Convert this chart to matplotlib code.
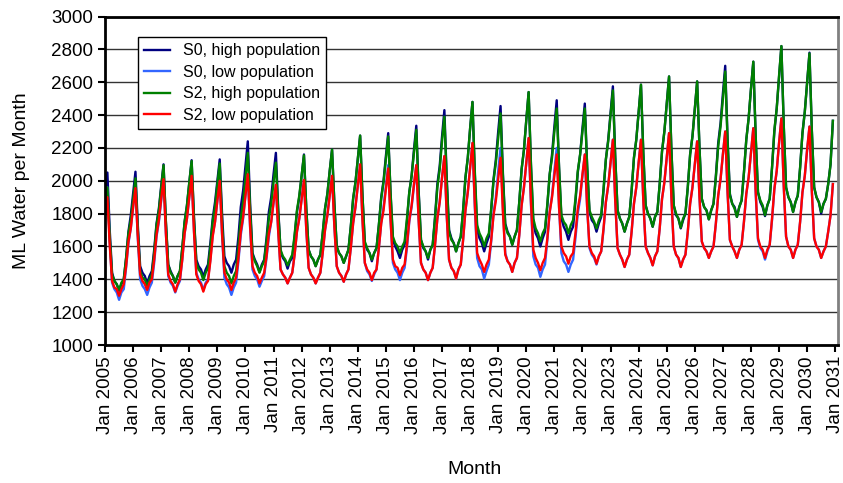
import numpy as np
import matplotlib
matplotlib.use("Agg")
import matplotlib.pyplot as plt

plt.rcParams["font.family"] = ["Liberation Sans", "DejaVu Sans"]

# tick labels: one per January, 2005 .. 2031
years = list(range(2005, 2032))
tick_labels = [f"Jan {y}" for y in years]

# monthly demand, ML per month, Jan 2005 .. Dec 2030 (one row per year)
s0_high = [
    1820, 2050, 1700, 1440, 1390, 1370, 1330, 1370, 1400, 1530, 1690, 1790,
    1920, 2055, 1730, 1480, 1440, 1420, 1375, 1420, 1450, 1580, 1740, 1830,
    1970, 2100, 1750, 1490, 1450, 1420, 1380, 1420, 1450, 1590, 1750, 1850,
    1990, 2125, 1780, 1520, 1480, 1460, 1415, 1460, 1490, 1620, 1770, 1870,
    2000, 2130, 1800, 1540, 1500, 1480, 1440, 1490, 1520, 1660, 1840, 1940,
    2090, 2240, 1860, 1560, 1520, 1490, 1445, 1490, 1520, 1650, 1810, 1900,
    2040, 2170, 1830, 1570, 1530, 1510, 1465, 1510, 1530, 1660, 1810, 1900,
    2030, 2160, 1830, 1580, 1540, 1520, 1480, 1520, 1550, 1680, 1830, 1920,
    2060, 2190, 1860, 1600, 1560, 1540, 1500, 1540, 1580, 1720, 1890, 1990,
    2130, 2275, 1910, 1620, 1580, 1560, 1510, 1560, 1590, 1730, 1900, 2000,
    2150, 2290, 1920, 1640, 1600, 1570, 1530, 1580, 1610, 1750, 1930, 2030,
    2190, 2335, 1940, 1640, 1590, 1570, 1520, 1580, 1610, 1780, 1980, 2090,
    2270, 2430, 2020, 1700, 1650, 1620, 1570, 1620, 1660, 1820, 2020, 2140,
    2320, 2480, 2040, 1700, 1650, 1620, 1570, 1620, 1660, 1820, 2010, 2130,
    2300, 2455, 2050, 1740, 1690, 1660, 1610, 1660, 1700, 1870, 2070, 2190,
    2370, 2540, 2090, 1740, 1680, 1650, 1600, 1650, 1690, 1850, 2040, 2160,
    2330, 2490, 2080, 1770, 1720, 1690, 1640, 1690, 1720, 1870, 2050, 2160,
    2320, 2470, 2090, 1810, 1760, 1740, 1690, 1740, 1780, 1940, 2130, 2250,
    2410, 2575, 2150, 1820, 1770, 1740, 1690, 1740, 1780, 1940, 2140, 2250,
    2420, 2585, 2170, 1850, 1800, 1770, 1720, 1780, 1810, 1980, 2180, 2300,
    2470, 2635, 2190, 1850, 1790, 1770, 1710, 1760, 1800, 1960, 2160, 2270,
    2440, 2605, 2200, 1890, 1840, 1820, 1765, 1820, 1860, 2030, 2230, 2350,
    2530, 2700, 2260, 1920, 1860, 1840, 1780, 1840, 1880, 2050, 2250, 2380,
    2560, 2725, 2270, 1930, 1870, 1840, 1785, 1850, 1890, 2080, 2300, 2440,
    2630, 2820, 2340, 1960, 1900, 1870, 1810, 1870, 1910, 2080, 2290, 2420,
    2600, 2780, 2310, 1960, 1900, 1870, 1800, 1860, 1890, 1980, 2100, 2365,
]

s0_low = [
    1800, 1960, 1630, 1380, 1340, 1320, 1275, 1320, 1340, 1470, 1620, 1710,
    1840, 1960, 1650, 1400, 1360, 1340, 1305, 1350, 1380, 1500, 1660, 1750,
    1880, 2010, 1680, 1420, 1380, 1360, 1320, 1360, 1390, 1520, 1680, 1770,
    1900, 2030, 1700, 1440, 1400, 1380, 1335, 1380, 1400, 1520, 1670, 1750,
    1880, 2000, 1670, 1410, 1370, 1350, 1305, 1350, 1380, 1510, 1670, 1770,
    1910, 2040, 1710, 1460, 1420, 1400, 1355, 1390, 1420, 1530, 1660, 1750,
    1860, 1975, 1690, 1460, 1430, 1410, 1375, 1410, 1440, 1550, 1690, 1770,
    1890, 2005, 1700, 1470, 1430, 1410, 1375, 1410, 1440, 1560, 1700, 1790,
    1910, 2030, 1720, 1480, 1440, 1420, 1385, 1430, 1460, 1590, 1740, 1840,
    1970, 2100, 1760, 1500, 1450, 1430, 1390, 1430, 1460, 1590, 1740, 1840,
    1970, 2095, 1760, 1500, 1460, 1440, 1395, 1440, 1470, 1590, 1750, 1840,
    1970, 2095, 1760, 1500, 1460, 1440, 1395, 1440, 1470, 1610, 1770, 1870,
    2020, 2150, 1790, 1520, 1470, 1450, 1405, 1460, 1490, 1640, 1820, 1930,
    2080, 2230, 1840, 1530, 1480, 1460, 1405, 1450, 1490, 1630, 1800, 1900,
    2060, 2200, 1840, 1560, 1510, 1490, 1445, 1500, 1530, 1670, 1850, 1960,
    2110, 2260, 1850, 1540, 1490, 1470, 1415, 1460, 1490, 1640, 1810, 1910,
    2060, 2200, 1840, 1560, 1510, 1490, 1445, 1490, 1520, 1650, 1800, 1890,
    2030, 2160, 1840, 1590, 1550, 1530, 1490, 1540, 1570, 1700, 1870, 1970,
    2110, 2250, 1880, 1590, 1550, 1520, 1475, 1520, 1550, 1690, 1860, 1960,
    2110, 2250, 1880, 1600, 1560, 1530, 1485, 1540, 1570, 1710, 1890, 1990,
    2140, 2290, 1900, 1600, 1550, 1530, 1475, 1520, 1550, 1690, 1860, 1960,
    2100, 2240, 1900, 1630, 1590, 1570, 1530, 1570, 1600, 1740, 1910, 2010,
    2160, 2300, 1930, 1640, 1600, 1570, 1530, 1580, 1610, 1750, 1920, 2020,
    2170, 2320, 1930, 1640, 1590, 1570, 1520, 1570, 1610, 1760, 1950, 2060,
    2230, 2380, 1970, 1660, 1600, 1580, 1530, 1580, 1610, 1750, 1930, 2030,
    2190, 2330, 1940, 1650, 1600, 1580, 1530, 1570, 1600, 1690, 1790, 1980,
]

s2_high = [
    1800, 1960, 1660, 1430, 1390, 1370, 1335, 1380, 1400, 1530, 1680, 1760,
    1890, 2015, 1700, 1450, 1410, 1400, 1355, 1400, 1430, 1560, 1730, 1820,
    1960, 2095, 1750, 1490, 1440, 1420, 1380, 1420, 1450, 1590, 1750, 1850,
    1990, 2120, 1770, 1500, 1460, 1440, 1395, 1440, 1470, 1590, 1750, 1840,
    1980, 2105, 1750, 1480, 1440, 1420, 1375, 1420, 1450, 1600, 1770, 1870,
    2020, 2170, 1820, 1550, 1510, 1480, 1440, 1480, 1510, 1630, 1770, 1860,
    1990, 2110, 1810, 1580, 1540, 1520, 1485, 1520, 1550, 1670, 1820, 1910,
    2030, 2155, 1830, 1580, 1540, 1520, 1480, 1520, 1550, 1680, 1830, 1920,
    2060, 2190, 1860, 1600, 1560, 1540, 1500, 1540, 1580, 1720, 1890, 1990,
    2130, 2275, 1910, 1630, 1590, 1560, 1520, 1560, 1590, 1730, 1890, 1990,
    2130, 2270, 1930, 1660, 1620, 1600, 1560, 1600, 1630, 1770, 1930, 2030,
    2170, 2310, 1930, 1640, 1600, 1570, 1530, 1580, 1610, 1770, 1960, 2070,
    2240, 2390, 2000, 1690, 1640, 1620, 1570, 1620, 1660, 1820, 2020, 2140,
    2320, 2480, 2060, 1730, 1680, 1650, 1600, 1650, 1680, 1830, 2000, 2110,
    2260, 2410, 2030, 1730, 1680, 1660, 1610, 1660, 1700, 1870, 2070, 2190,
    2370, 2540, 2100, 1770, 1710, 1680, 1630, 1680, 1710, 1860, 2040, 2140,
    2300, 2440, 2080, 1790, 1750, 1730, 1680, 1730, 1760, 1890, 2060, 2160,
    2300, 2440, 2090, 1820, 1780, 1750, 1710, 1760, 1790, 1950, 2130, 2240,
    2400, 2550, 2140, 1820, 1770, 1740, 1690, 1740, 1780, 1940, 2140, 2250,
    2420, 2585, 2170, 1850, 1800, 1770, 1720, 1780, 1810, 1980, 2180, 2300,
    2470, 2635, 2190, 1850, 1800, 1770, 1715, 1770, 1800, 1960, 2160, 2270,
    2440, 2605, 2200, 1890, 1840, 1820, 1765, 1820, 1860, 2020, 2210, 2330,
    2500, 2665, 2240, 1910, 1860, 1830, 1780, 1840, 1880, 2050, 2250, 2380,
    2560, 2725, 2280, 1930, 1880, 1850, 1790, 1850, 1890, 2080, 2310, 2440,
    2640, 2820, 2340, 1960, 1900, 1870, 1810, 1870, 1910, 2080, 2290, 2420,
    2600, 2775, 2310, 1960, 1900, 1870, 1810, 1860, 1890, 1980, 2100, 2365,
]

s2_low = [
    1790, 1900, 1610, 1390, 1350, 1340, 1300, 1340, 1370, 1480, 1630, 1710,
    1840, 1955, 1660, 1430, 1390, 1370, 1335, 1380, 1400, 1520, 1670, 1760,
    1890, 2010, 1680, 1430, 1390, 1370, 1325, 1370, 1400, 1520, 1680, 1770,
    1900, 2030, 1690, 1430, 1390, 1370, 1325, 1370, 1390, 1510, 1660, 1750,
    1880, 2000, 1680, 1440, 1400, 1380, 1335, 1380, 1410, 1530, 1690, 1780,
    1910, 2040, 1720, 1480, 1440, 1420, 1375, 1410, 1440, 1540, 1680, 1750,
    1870, 1975, 1690, 1460, 1430, 1410, 1375, 1410, 1440, 1550, 1690, 1770,
    1890, 2005, 1700, 1470, 1430, 1410, 1375, 1410, 1440, 1560, 1700, 1790,
    1910, 2030, 1720, 1480, 1440, 1420, 1385, 1430, 1460, 1590, 1740, 1840,
    1970, 2100, 1760, 1500, 1460, 1440, 1395, 1440, 1460, 1590, 1740, 1820,
    1950, 2075, 1760, 1520, 1480, 1470, 1425, 1470, 1490, 1610, 1760, 1850,
    1980, 2095, 1760, 1500, 1460, 1440, 1395, 1440, 1470, 1610, 1770, 1870,
    2020, 2150, 1790, 1520, 1470, 1450, 1405, 1460, 1490, 1640, 1820, 1930,
    2080, 2230, 1860, 1560, 1520, 1490, 1445, 1490, 1520, 1640, 1790, 1880,
    2010, 2140, 1810, 1550, 1510, 1490, 1445, 1500, 1530, 1670, 1850, 1960,
    2110, 2260, 1870, 1580, 1530, 1500, 1455, 1500, 1530, 1650, 1810, 1900,
    2030, 2160, 1840, 1600, 1560, 1540, 1495, 1540, 1560, 1680, 1830, 1910,
    2040, 2160, 1840, 1600, 1560, 1540, 1495, 1540, 1570, 1710, 1870, 1970,
    2110, 2250, 1880, 1590, 1550, 1520, 1475, 1520, 1550, 1690, 1860, 1960,
    2110, 2250, 1880, 1600, 1560, 1530, 1485, 1540, 1570, 1710, 1890, 1990,
    2140, 2290, 1900, 1600, 1550, 1530, 1475, 1520, 1550, 1690, 1860, 1960,
    2100, 2240, 1900, 1630, 1590, 1570, 1530, 1570, 1600, 1740, 1910, 2010,
    2160, 2300, 1930, 1640, 1600, 1570, 1530, 1580, 1610, 1750, 1920, 2020,
    2170, 2320, 1940, 1650, 1600, 1580, 1530, 1580, 1610, 1770, 1950, 2060,
    2230, 2380, 1970, 1660, 1600, 1580, 1530, 1580, 1610, 1750, 1930, 2030,
    2190, 2330, 1940, 1650, 1600, 1580, 1530, 1570, 1600, 1690, 1790, 1980,
]

series = [
    ("S0, high population", s0_high, "#000080"),
    ("S0, low population", s0_low, "#3366FF"),
    ("S2, high population", s2_high, "#008000"),
    ("S2, low population", s2_low, "#FF0000"),
]


def main() -> None:
    fig = plt.figure(figsize=(8.43, 4.83), dpi=100)
    ax = fig.add_axes([0.1246, 0.2857, 0.8695, 0.6801])

    months = np.arange(len(s0_high))
    for label, vals, color in series:
        ax.plot(months, vals, color=color, lw=1.7, label=label)

    ax.set_xlim(0, 313.2)
    ax.set_ylim(1000, 3000)
    ax.set_yticks(range(1000, 3001, 200))
    ax.set_xticks(np.arange(0, 12 * len(years), 12))
    ax.set_xticklabels(tick_labels, rotation=90)
    ax.tick_params(axis="both", direction="out", length=5, width=1.5,
                   labelsize=13.5, colors="black")
    ax.tick_params(axis="x", pad=3)

    ax.yaxis.grid(True, color="#333333", lw=1)
    ax.set_axisbelow(True)

    for side in ("left", "bottom", "top"):
        ax.spines[side].set_color("black")
        ax.spines[side].set_linewidth(2)
    ax.spines["right"].set_color("#808080")
    ax.spines["right"].set_linewidth(2)

    leg = ax.legend(loc="upper left", bbox_to_anchor=(0.045, 0.9376),
                    borderaxespad=0, fontsize=11.5, handlelength=1.6,
                    labelspacing=0.4, fancybox=False, framealpha=1,
                    edgecolor="black")
    leg.get_frame().set_linewidth(1)

    fig.text(22 / 843, 1 - 181 / 483, "ML Water per Month", rotation=90,
             ha="center", va="center", fontsize=14)
    fig.text(475 / 843, 1 - 470 / 483, "Month", ha="center", va="center",
             fontsize=14)

    fig.savefig("out.png", dpi=100)
    plt.close(fig)


if __name__ == "__main__":
    main()
